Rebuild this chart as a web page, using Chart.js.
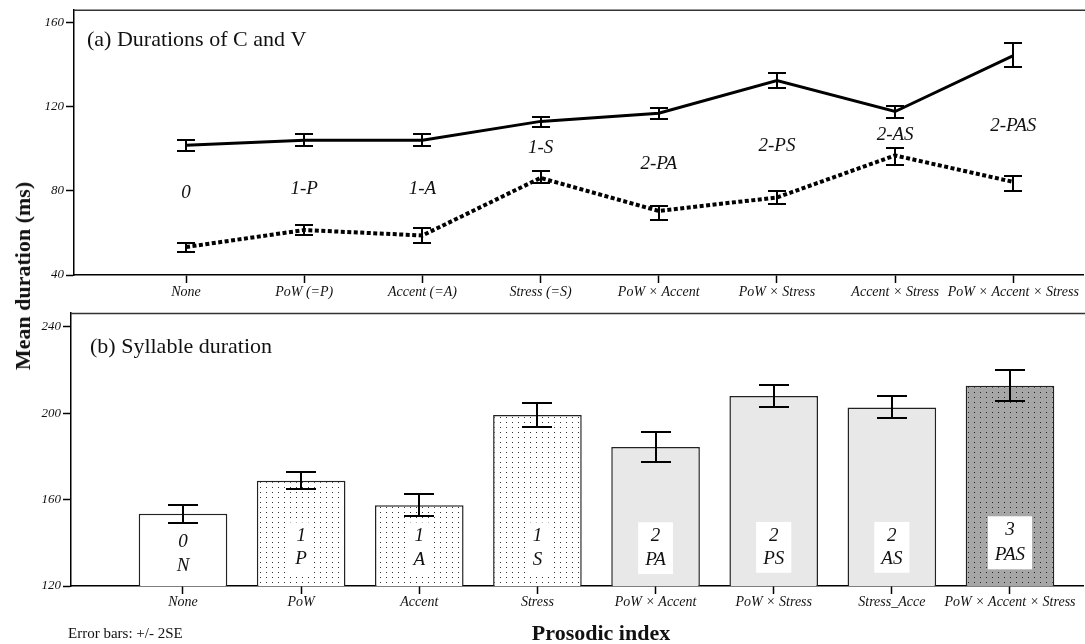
<!DOCTYPE html>
<html><head><meta charset="utf-8">
<script src="https://cdn.jsdelivr.net/npm/chart.js@4.4.0/dist/chart.umd.min.js"></script>
<style>
html,body{margin:0;padding:0;background:#fff;}
#wrap{position:relative;width:1085px;height:644px;overflow:hidden;font-family:"Liberation Serif","Times New Roman",serif;color:#111;}
#c1{position:absolute;left:0;top:0;}
#c2{position:absolute;left:0;top:300px;}
.t{position:absolute;white-space:nowrap;line-height:1;}
#ytitle{left:23px;top:276px;font-size:22px;font-weight:bold;transform:translate(-50%,-50%) rotate(-90deg);}
#xtitle{left:601px;top:633px;font-size:22px;font-weight:bold;transform:translate(-50%,-50%);}
#note{left:68px;top:633px;font-size:15px;transform:translate(0,-50%);}
</style></head><body>
<div id="wrap">
<canvas id="c1" width="1085" height="300"></canvas>
<canvas id="c2" width="1085" height="344"></canvas>
<div class="t" id="ytitle">Mean duration (ms)</div>
<div class="t" id="xtitle">Prosodic index</div>
<div class="t" id="note">Error bars: +/- 2SE</div>
</div>
<script>
// ---------- data ----------
const lineCategories = ['None','PoW (=P)','Accent (=A)','Stress (=S)','PoW × Accent','PoW × Stress','Accent × Stress','PoW × Accent × Stress'];
const barCategories = ['None','PoW','Accent','Stress','PoW × Accent','PoW × Stress','Stress_Acce','PoW × Accent × Stress'];

const solidMean = [101.8, 104.1, 104.1, 113.1, 117.0, 132.5, 117.8, 144.4];
const solidLo   = [99.2, 101.2, 101.5, 110.2, 114.2, 128.9, 114.8, 139.2];
const solidHi   = [104.2, 107.0, 106.9, 115.4, 119.7, 136.0, 120.5, 150.2];

const dottedMean = [53.3, 61.4, 58.8, 86.2, 70.5, 76.9, 96.9, 84.3];
const dottedLo   = [51.1, 59.1, 55.3, 84.0, 66.2, 73.7, 92.3, 80.0];
const dottedHi   = [55.3, 63.6, 62.2, 89.3, 72.9, 79.9, 100.4, 87.1];

const lineIndexLabels = ['0','1-P','1-A','1-S','2-PA','2-PS','2-AS','2-PAS'];
const lineIndexLabelY = [78.8, 80.7, 80.8, 100.3, 93.0, 101.4, 106.4, 110.7];

const barMean = [153.4, 168.7, 157.4, 199.2, 184.4, 208.0, 202.7, 212.7];
const barLo   = [149.2, 164.8, 152.4, 193.7, 177.3, 202.9, 197.7, 205.5];
const barHi   = [157.5, 172.6, 162.5, 204.7, 191.2, 213.1, 207.9, 220.0];

const barIndexTop    = ['0','1','1','1','2','2','2','3'];
const barIndexBottom = ['N','P','A','S','PA','PS','AS','PAS'];
const barIndexTopY    = [140.3, 143.0, 143.0, 143.0, 143.0, 143.2, 143.2, 145.8];
const barIndexBottomY = [129.1, 132.4, 132.0, 132.0, 132.0, 132.6, 132.6, 134.2];

const lineTicksY = [40, 80, 120, 160];
const barTicksY  = [120, 160, 200, 240];

// ---------- styling ----------
const SERIF = '"Liberation Serif", "Times New Roman", serif';
Chart.defaults.font.family = SERIF;
Chart.defaults.color = '#111';

function dotPattern(ctx, bg, dot){
  const c = document.createElement('canvas'); c.width = 6; c.height = 5;
  const g = c.getContext('2d');
  g.fillStyle = bg; g.fillRect(0,0,6,5);
  g.fillStyle = dot; g.fillRect(2,2,1,1);
  return ctx.createPattern(c, 'repeat');
}

const errorBars = {
  id: 'errorBars',
  afterDatasetsDraw(chart, args, opts){
    const {ctx, scales:{x, y}} = chart;
    ctx.save();
    ctx.strokeStyle = '#000'; ctx.lineWidth = opts.width; ctx.lineCap = 'butt';
    opts.sets.forEach(s => {
      s.lo.forEach((lo, i) => {
        const px = Math.round(x.getPixelForValue(i));
        const p1 = Math.round(y.getPixelForValue(lo));
        const p2 = Math.round(y.getPixelForValue(s.hi[i]));
        ctx.beginPath();
        ctx.moveTo(px, p1); ctx.lineTo(px, p2);
        ctx.moveTo(px - opts.cap, p1); ctx.lineTo(px + opts.cap, p1);
        ctx.moveTo(px - opts.cap, p2); ctx.lineTo(px + opts.cap, p2);
        ctx.stroke();
      });
    });
    ctx.restore();
  }
};

const frame = {
  id: 'frame',
  afterDraw(chart, args, opts){
    const {ctx, chartArea} = chart;
    ctx.save();
    ctx.strokeStyle = '#333'; ctx.lineWidth = 1.5;
    ctx.beginPath();
    ctx.moveTo(chartArea.left, chartArea.top + 0.5);
    ctx.lineTo(chart.width, chartArea.top + 0.5);
    ctx.stroke();
    ctx.font = '22px ' + SERIF;
    ctx.fillStyle = '#111'; ctx.textBaseline = 'middle'; ctx.textAlign = 'left';
    ctx.fillText(opts.title, opts.tx, opts.ty);
    ctx.restore();
  }
};

const lineAnnot = {
  id: 'lineAnnot',
  afterDatasetsDraw(chart){
    const {ctx, scales:{x, y}} = chart;
    ctx.save();
    ctx.font = 'italic 19px ' + SERIF;
    ctx.fillStyle = '#111'; ctx.textAlign = 'center'; ctx.textBaseline = 'middle';
    lineIndexLabels.forEach((t, i) => ctx.fillText(t, x.getPixelForValue(i), y.getPixelForValue(lineIndexLabelY[i])));
    ctx.restore();
  }
};

const barAnnot = {
  id: 'barAnnot',
  afterDatasetsDraw(chart){
    const {ctx, scales:{x, y}} = chart;
    ctx.save();
    ctx.font = 'italic 19px ' + SERIF;
    ctx.textAlign = 'center'; ctx.textBaseline = 'middle';
    barIndexTop.forEach((t, i) => {
      const px = x.getPixelForValue(i);
      const y1 = y.getPixelForValue(barIndexTopY[i]);
      const y2 = y.getPixelForValue(barIndexBottomY[i]);
      const w = Math.max(ctx.measureText(t).width, ctx.measureText(barIndexBottom[i]).width) + 14;
      if (i > 0) {
        ctx.fillStyle = '#fff';
        ctx.fillRect(px - w/2, y1 - 14, w, (y2 - y1) + 28);
      }
      ctx.fillStyle = '#111';
      ctx.fillText(t, px, y1);
      ctx.fillText(barIndexBottom[i], px, y2);
    });
    ctx.restore();
  }
};

function xScale(min, max, labels, tickLen, pad, height){
  return {
    type: 'linear', min: min, max: max, offset: false,
    afterBuildTicks: s => { s.ticks = labels.map((_, i) => ({value: i})); },
    afterFit: s => { s.height = height; },
    grid: {display: true, offset: false, drawOnChartArea: false, drawTicks: true, tickLength: tickLen, tickColor: '#000', tickWidth: 1.5},
    border: {display: true, color: '#000', width: 1.5},
    ticks: {autoSkip: false, maxRotation: 0, padding: pad, color: '#111',
      font: {family: SERIF, size: 14, style: 'italic'},
      callback: (v) => labels[Math.round(v)]}
  };
}
function yScale(min, max, ticks, width){
  return {
    type: 'linear', min: min, max: max,
    afterBuildTicks: s => { s.ticks = ticks.map(v => ({value: v})); },
    afterFit: s => { s.width = width; },
    grid: {display: true, drawOnChartArea: false, drawTicks: true, tickLength: 8, tickColor: '#000', tickWidth: 1.5},
    border: {display: true, color: '#000', width: 1.5},
    ticks: {padding: 2, color: '#111', font: {family: SERIF, size: 13, style: 'italic'}}
  };
}

// ---------- top chart ----------
new Chart(document.getElementById('c1'), {
  type: 'line',
  data: {
    datasets: [
      {label: 'Solid', data: solidMean.map((v, i) => ({x: i, y: v})),
       borderColor: '#000', borderWidth: 3, pointRadius: 0, tension: 0, fill: false},
      {label: 'Dotted', data: dottedMean.map((v, i) => ({x: i, y: v})),
       borderColor: '#000', borderWidth: 4, borderDash: [4, 2.5], borderCapStyle: 'butt', pointRadius: 0, tension: 0, fill: false}
    ]
  },
  options: {
    responsive: false, animation: false, devicePixelRatio: 1,
    layout: {padding: {top: 9, right: 2, left: 0, bottom: 0}},
    plugins: {
      legend: {display: false}, tooltip: {enabled: false},
      errorBars: {width: 2, cap: 9, sets: [{lo: solidLo, hi: solidHi}, {lo: dottedLo, hi: dottedHi}]},
      frame: {title: '(a) Durations of C and V', tx: 87, ty: 40}
    },
    scales: {
      x: xScale(-0.948, 7.59, lineCategories, 8, 1, 25),
      y: yScale(40, 166.2, lineTicksY, 74)
    }
  },
  plugins: [errorBars, lineAnnot, frame]
});

// ---------- bottom chart ----------
const ctx2 = document.getElementById('c2').getContext('2d');
const dotWhite = dotPattern(ctx2, '#ffffff', '#333333');
const dotGrey  = dotPattern(ctx2, '#a6a6a6', '#222222');
const barFills = ['#ffffff', dotWhite, dotWhite, dotWhite, '#e8e8e8', '#e8e8e8', '#e8e8e8', dotGrey];

new Chart(document.getElementById('c2'), {
  type: 'bar',
  data: {
    datasets: [{
      label: 'Syllable', data: barMean.map((v, i) => ({x: i, y: v})),
      backgroundColor: barFills, borderColor: '#222', borderWidth: 1.5, borderSkipped: false,
      barPercentage: 0.75, categoryPercentage: 1
    }]
  },
  options: {
    responsive: false, animation: false, devicePixelRatio: 1,
    layout: {padding: {top: 13, right: 2, left: 0, bottom: 0}},
    plugins: {
      legend: {display: false}, tooltip: {enabled: false},
      errorBars: {width: 2, cap: 15, sets: [{lo: barLo, hi: barHi}]},
      frame: {title: '(b) Syllable duration', tx: 90, ty: 47}
    },
    scales: {
      x: xScale(-0.948, 7.618, barCategories, 8, 0, 58),
      y: yScale(120, 246.4, barTicksY, 71)
    }
  },
  plugins: [barAnnot, errorBars, frame]
});
</script>
</body></html>
